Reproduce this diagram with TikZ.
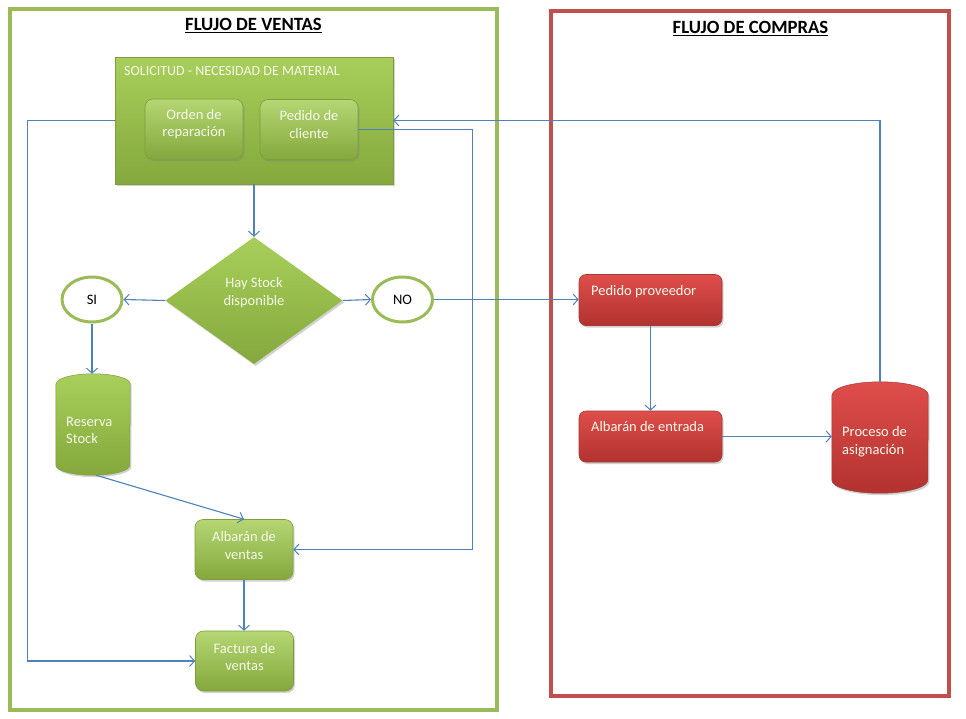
\documentclass[tikz,border=0pt]{standalone}
\usepackage{fontspec}
\setmainfont{Carlito}
\usetikzlibrary{arrows.meta,shapes.geometric,shadows,calc}
\definecolor{gframe}{HTML}{9BBB59}
\definecolor{rframe}{HTML}{C0504D}
\definecolor{gtop}{HTML}{A8CF5B}
\definecolor{gbot}{HTML}{84A83C}
\definecolor{gedge}{HTML}{7E9E3E}
\definecolor{rtop}{HTML}{DF4E4B}
\definecolor{rbot}{HTML}{B23230}
\definecolor{redge}{HTML}{A33A37}
\definecolor{conncol}{HTML}{4F81BD}
\definecolor{btext}{HTML}{F4F9EA}
\tikzset{
  frameg/.style={draw=gframe, line width=3.5pt},
  framer/.style={draw=rframe, line width=3.5pt},
  ttl/.style={font=\fontsize{18.7}{22}\selectfont\bfseries, inner sep=0pt},
  boxtext/.style={font=\fontsize{14.5}{17.5}\selectfont, text=btext, align=center},
  boxtextl/.style={font=\fontsize{14.5}{17.5}\selectfont, text=btext, align=left},
  shadowed/.style={drop shadow={shadow xshift=1.5pt, shadow yshift=-2pt, opacity=0.35}},
  bigbox/.style={rectangle, top color=gtop, bottom color=gbot, draw=gedge, line width=0.5pt, shadowed, inner sep=0pt},
  gbox/.style={rectangle, rounded corners=8pt, top color=gtop!85!white, bottom color=gbot, draw=gedge, line width=0.6pt, shadowed, inner sep=0pt, minimum width=98pt, minimum height=60pt},
  rbox/.style={rectangle, rounded corners=7pt, top color=rtop, bottom color=rbot, draw=redge, line width=0.6pt, shadowed, inner sep=0pt, minimum width=143pt, minimum height=51pt},
  dmd/.style={diamond, top color=gtop, bottom color=gbot, inner sep=0pt, shadowed, minimum width=177pt, minimum height=127pt},
  oval/.style={ellipse, draw=gframe, line width=3pt, fill=white, inner sep=0pt, minimum width=60pt, minimum height=45pt, font=\fontsize{14.5}{17.5}\selectfont},
  cylbox/.style={rectangle, inner sep=0pt},
  gcyl/.style={top color=gtop, bottom color=gbot, draw=gedge, line width=0.5pt, shadowed},
  rcyl/.style={top color=rtop, bottom color=rbot, draw=redge, line width=0.5pt, shadowed},
  conn/.style={draw=conncol, line width=1.1pt, -{Straight Barb[length=5pt,width=11pt,line width=1pt]}}
}
\begin{document}
\begin{tikzpicture}[x=1pt,y=-1pt]
\useasboundingbox (0,0) rectangle (966,718);
\fill[white] (0,0) rectangle (966,718);
% frames
\draw[frameg] (10,9) rectangle (497,710);
\draw[framer] (551,11) rectangle (949,696);
\node[ttl] (t1) at (253.5,25.5) {\underline{FLUJO DE VENTAS}};
\node[ttl] (t2) at (750.5,28.5) {\underline{FLUJO DE COMPRAS}};
% sales
\node[bigbox, minimum width=278pt, minimum height=127pt] (sol) at (254,120.5) {};
\node[anchor=west, inner sep=0pt, text=btext, font=\fontsize{14}{16}\selectfont] (solt) at (124,71) {SOLICITUD - NECESIDAD DE MATERIAL};
\node[gbox, label={[boxtext, yshift=5pt]center:Orden de\\reparación}] (ord) at (194,129) {};
\node[gbox, label={[boxtext, yshift=5pt]center:Pedido de\\cliente}] (pc) at (309,129.5) {};
\node[dmd, label={[boxtext, yshift=8pt]center:Hay Stock\\disponible}] (dia) at (254,300.5) {};
\node[oval] (si) at (92,299.5) {SI};
\node[oval] (no) at (402.5,299.5) {NO};
\node[cylbox, minimum width=74pt, minimum height=101pt] (res) at (93,424.5) {};
\shade[gcyl] ($(res.north west)+(0,10)$) -- ($(res.south west)+(0,-10)$)
  arc[start angle=180, end angle=360, x radius=37pt, y radius=10pt]
  -- ($(res.north east)+(0,10)$)
  arc[start angle=0, end angle=180, x radius=37pt, y radius=10pt] -- cycle;
\node[boxtextl, anchor=west, inner sep=0pt] (rest) at (66,430.5) {Reserva\\Stock};
\node[gbox, label={[boxtext, yshift=4pt]center:Albarán de\\ventas}] (av) at (244,549.5) {};
\node[gbox, label={[boxtext, yshift=4pt]center:Factura de\\ventas}] (fv) at (244.5,661) {};
% purchases
\node[rbox] (pp) at (650.5,300) {};
\node[boxtextl, anchor=west, inner sep=0pt] (ppt) at (591,292) {Pedido proveedor};
\node[rbox] (ae) at (650.5,436.5) {};
\node[boxtextl, anchor=west, inner sep=0pt] (aet) at (591,427) {Albarán de entrada};
\node[cylbox, minimum width=96pt, minimum height=111pt] (pa) at (880,437.5) {};
\shade[rcyl] ($(pa.north west)+(0,13)$) -- ($(pa.south west)+(0,-13)$)
  arc[start angle=180, end angle=360, x radius=48pt, y radius=13pt]
  -- ($(pa.north east)+(0,13)$)
  arc[start angle=0, end angle=180, x radius=48pt, y radius=13pt] -- cycle;
\node[boxtextl, anchor=west, inner sep=0pt] (pat) at (842,441.5) {Proceso de\\asignación};
% connectors
\draw[conn] (sol.south) -- (dia.north);
\draw[conn] (dia.west) -- (si.east);
\draw[conn] (dia.east) -- (no.west);
\draw[conn] (no.east) -- (no.east -| pp.west);
\draw[conn] (si.south) -- (si.south |- res.north);
\draw[conn] ($(res.south)+(3,0)$) -- (av.north);
\draw[conn] (av.south) -- (av.south |- fv.north);
\draw[conn] (pp.south) -- (ae.north);
\draw[conn] (ae.east) -- (ae.east -| pa.west);
\draw[conn] (pa.north) |- (sol.east);
\draw[conn] (pc.east) -- ++(114,0) |- (av.east);
\draw[conn] (sol.west) -- ++(-87,0) |- (fv.west);
\end{tikzpicture}
\end{document}
